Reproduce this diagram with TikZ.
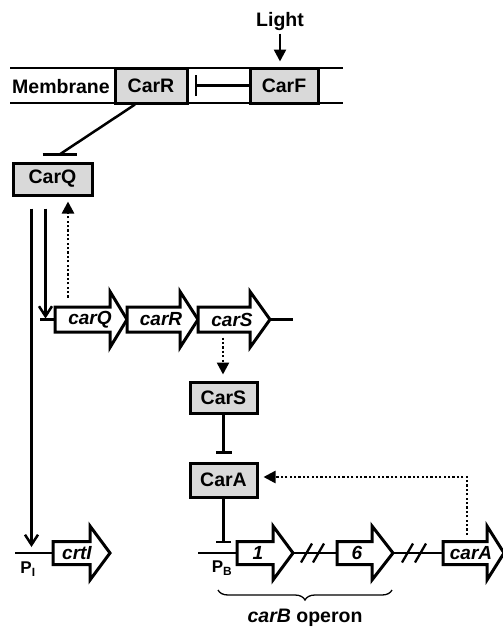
\documentclass[tikz,border=0pt]{standalone}
\usepackage{fontspec}
\setmainfont{Liberation Sans}
\usetikzlibrary{arrows.meta,calc,decorations.pathreplacing}
\definecolor{boxgray}{HTML}{D9D9D9}
\newcommand{\gbh}{12}
\newcommand{\ghh}{28}
% #1 name, #2 start x, #3 head base x, #4 tip x, #5 centre y, #6 label x, #7 label
\newcommand{\genearrow}[7]{%
  \draw[genebox] (#2,#5-\gbh) -- (#3,#5-\gbh) -- (#3,#5-\ghh) -- (#4,#5)
     -- (#3,#5+\ghh) -- (#3,#5+\gbh) -- (#2,#5+\gbh) -- cycle;
  \coordinate (#1-s) at (#2,#5);
  \coordinate (#1-t) at (#4,#5);
  \node[genelabel] (#1) at (#6,#5) {#7};}
\begin{document}
\begin{tikzpicture}[x=1pt,y=-1pt,
  font=\fontsize{19.5}{21}\selectfont\bfseries,
  prot/.style={draw, line width=3pt, fill=boxgray, inner sep=0pt},
  genebox/.style={draw, line width=3pt, fill=white, line join=miter},
  genelabel/.style={inner sep=0pt, font=\fontsize{19}{21}\selectfont\bfseries\itshape},
  conn/.style={line width=2.5pt},
  memline/.style={line width=2.6pt},
  inhib/.style={conn, -{Bar[width=#1]}},
  inhib/.default=18pt,
  tri/.style={conn, -{Triangle[width=12pt,length=12pt]}},
  varr/.style={conn, -{Straight Barb[width=13pt,length=10pt]}},
  dotarr/.style={line width=2.5pt, dash pattern=on 2.2pt off 2.2pt, -{Triangle[width=12pt,length=12pt]}},
  slash/.style={line width=2.3pt},
  plabel/.style={font=\fontsize{17}{18}\selectfont\bfseries}
]
\useasboundingbox (0,0) rectangle (503,627);

% membrane
\draw[memline] (10,68) -- (343,68);
\draw[memline] (10,103) -- (343,103);
\node (mem) at (61,87) {Membrane};
\node[prot, minimum width=72pt, minimum height=35pt] (CarR) at (151,85.5) {CarR};
\node[prot, minimum width=68pt, minimum height=35pt] (CarF) at (284,85.5) {CarF};
\node (light) at (280,21) {Light};
\draw[tri, shorten >=5pt] (light.south) -- (light.south |- CarF.north);
\draw[inhib=21pt] (CarF.west) -- ($(CarR.east)+(6,0)$);

% CarQ
\node[prot, minimum width=79pt, minimum height=32pt] (CarQ) at (52.5,179) {CarQ};
\coordinate (qbar) at ($(CarQ.north)+(7,-7)$);
\draw[conn] ($(CarR.south)+(-16,0)$) -- (qbar);
\draw[conn] ($(qbar)+(-17,0)$) -- ($(qbar)+(17,0)$);

% carQRS genes
\renewcommand{\gbh}{12.5}
\renewcommand{\ghh}{28}
\genearrow{gQ}{55}{110}{127}{319.5}{90}{carQ}
\genearrow{gR}{127}{180}{198}{319.5}{161}{carR}
\genearrow{gS}{198}{250}{270}{319.5}{232}{carS}
\coordinate (pQ) at (40,319.5);
\draw[conn] (pQ) -- (gQ-s);
\draw[conn] (gS-t) -- ++(23,0);

% arrows from CarQ
\coordinate (pI) at (15,553);
\draw[varr, shorten >=6pt] ($(CarQ.south west)+(20,12)$) coordinate (a1) -- (a1 |- pI);
\draw[varr, shorten >=1pt] ($(CarQ.south west)+(34,12)$) coordinate (a2) -- (a2 |- pQ);
\draw[dotarr, shorten >=5pt] ($(gQ-s)+(13,-22)$) coordinate (d1) -- (d1 |- CarQ.south);

% CarS, CarA
\node[prot, minimum width=67pt, minimum height=31pt] (CarS) at (223.5,397.5) {CarS};
\node[prot, minimum width=67pt, minimum height=34pt] (CarA) at (223.5,480) {CarA};
\draw[dotarr, shorten >=6pt] ($(gS-s)+(25,18)$) coordinate (d2) -- (d2 |- CarS.north);
\draw[inhib=16pt, shorten >=8pt] (CarS.south) -- (CarS.south |- CarA.north);

% bottom row
\renewcommand{\gbh}{11.5}
\renewcommand{\ghh}{27}
\genearrow{gI}{53}{90}{110}{553}{77}{crtI}
\genearrow{g1}{237}{273}{293}{553}{258}{1}
\genearrow{g6}{337}{372}{393}{553}{357}{6}
\genearrow{gA}{443}{487}{504}{553}{471}{carA}
\draw[conn] (pI) -- (gI-s);
\coordinate (pB) at (198,553);
\draw[conn] (pB) -- (g1-s);
\draw[conn] (g1-t) -- (g6-s);
\draw[conn] (g6-t) -- (gA-s);
\draw[slash] ($(g1-t)+(8,9.5)$) -- ++(11,-19);
\draw[slash] ($(g1-t)+(20,9.5)$) -- ++(11,-19);
\draw[slash] ($(g6-t)+(9,9.5)$) -- ++(11,-19);
\draw[slash] ($(g6-t)+(22,9.5)$) -- ++(11,-19);
\draw[inhib=15pt, shorten >=10pt] (CarA.south) -- (CarA.south |- pB);
\draw[dotarr, shorten >=5pt] ($(gA-s)+(24,-18)$) coordinate (d3) |- ($(CarA.east)+(0,-3)$);

\node[plabel] (PI) at (28,569) {P\textsubscript{I}};
\node[plabel] (PB) at (222,568) {P\textsubscript{B}};

% brace
\draw[line width=1.3pt, decorate, decoration={brace, mirror, amplitude=10pt}] (218,590) -- (392,590);
\node (op) at (305,618) {{\itshape carB} operon};
\end{tikzpicture}
\end{document}
